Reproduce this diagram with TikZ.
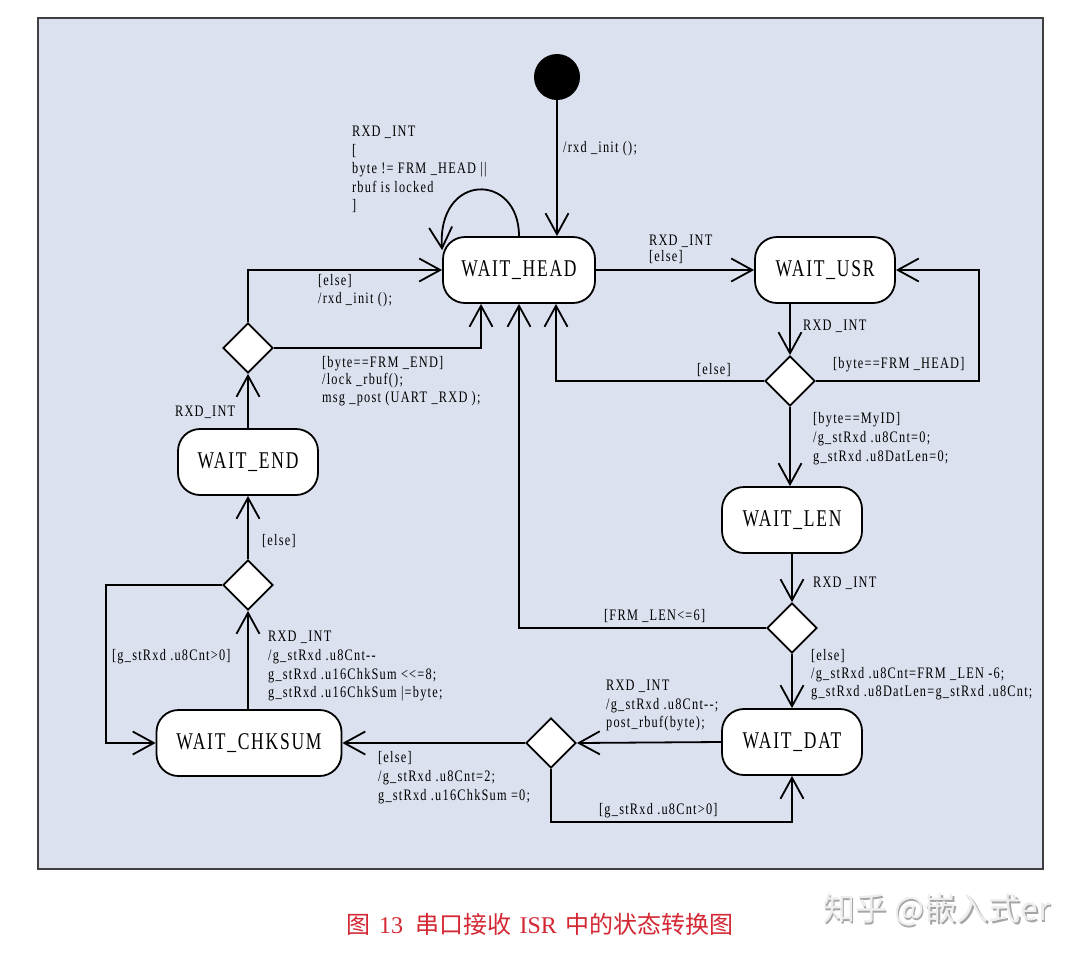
\documentclass[tikz,border=0pt]{standalone}
\usepackage{graphicx}
\usepackage{fontspec}
\setmainfont{Liberation Serif}
\newfontfamily\cjk{Noto Sans CJK SC}
\newfontfamily\lblfont[LetterSpace=10]{Liberation Serif}
\newfontfamily\statefont[LetterSpace=10]{Liberation Serif}
\newcommand{\stxt}[1]{\scalebox{0.73}[1]{#1}}
\usetikzlibrary{arrows.meta,shapes.geometric}
\definecolor{bgc}{RGB}{220,225,240}
\definecolor{capred}{RGB}{212,40,52}
\definecolor{wmshadow}{RGB}{165,165,165}
\definecolor{wmtop}{RGB}{238,238,238}
\tikzset{
  state/.style={draw, fill=white, line width=1.8pt, rounded corners=22pt,
    minimum height=66pt, inner sep=0pt, font=\statefont\fontsize{24}{28}\selectfont},
  dec/.style={diamond, draw, fill=white, line width=1.8pt, aspect=1,
    minimum width=50pt, minimum height=50pt, inner sep=0pt},
  arr/.style={line width=1.8pt, -{Straight Barb[length=21pt,width=23pt,line width=1.8pt]}},
  lbl/.style={anchor=north west, inner sep=0pt, align=left, xscale=0.77,
    font=\lblfont\fontsize{16}{18.5}\selectfont},
}
\begin{document}
\begin{tikzpicture}[x=1pt,y=-1pt]
\fill[white] (0,0) rectangle (1080,954);
\useasboundingbox (0,0) rectangle (1080,954);
\draw[line width=2pt, draw=black!75, fill=bgc] (38,18) rectangle (1043,869);

% states
\node[circle, fill=black, minimum size=46pt, inner sep=0pt] (init) at (557,77) {};
\node[state, minimum width=152pt] (head) at (519,270) {\stxt{WAIT\_HEAD}};
\node[state, minimum width=140pt] (usr) at (825,270) {\stxt{WAIT\_USR}};
\node[state, minimum width=140pt] (len) at (792,520) {\stxt{WAIT\_LEN}};
\node[state, minimum width=140pt] (dat) at (792,742) {\stxt{WAIT\_DAT}};
\node[state, minimum width=185pt] (chk) at (249,743) {\stxt{WAIT\_CHKSUM}};
\node[state, minimum width=140pt] (wend) at (248,462) {\stxt{WAIT\_END}};

% decisions
\node[dec] (d1) at (790,381) {};
\node[dec] (d2) at (792,628) {};
\node[dec] (d3) at (551,743) {};
\node[dec] (d4) at (248,585) {};
\node[dec] (d5) at (248,348) {};

% helper corners
\coordinate (rc) at (979,270);
\coordinate (bc) at (792,822);
\coordinate (lc) at (106,743);

% connectors
\draw[arr] (init) -- (head.north -| init);
\draw[arr] (head.north) .. controls (519,172) and (437,172) .. ([yshift=-14pt]head.north west);
\draw[arr] (head.east) -- (usr.west);
\draw[arr] (usr.south -| d1) -- (d1.north);
\draw[arr] (d1.east) -| (rc) -- (usr.east);
\draw[arr] (d1.west) -| ([xshift=37pt]head.south);
\draw[arr] (d1.south) -- (len.north -| d1);
\draw[arr] (len.south -| d2) -- (d2.north);
\draw[arr] (d2.west) -| (head.south);
\draw[arr] (d2.south) -- (dat.north -| d2);
\draw[arr] (dat.west) -- (d3.east);
\draw[arr] (d3.south) |- (bc) -- (dat.south);
\draw[arr] (d3.west) -- (chk.east);
\draw[arr] (chk.north -| d4) -- (d4.south);
\draw[arr] (d4.west) -| (lc) -- (chk.west);
\draw[arr] (d4.north) -- (wend.south);
\draw[arr] (wend.north) -- (d5.south);
\draw[arr] (d5.north) |- (head.west);
\draw[arr] (d5.east) -| ([xshift=-38pt]head.south);

% labels
\node[lbl] (lloop) at (352,126) {RXD \_INT\\{[}\\byte != FRM \_HEAD ||\\rbuf is locked\\]};
\node[lbl] (linit) at (563,141) {/rxd \_init ();};
\node[lbl, font=\lblfont\fontsize{16}{16}\selectfont] (lhu) at (649,235) {RXD \_INT\\{[}else]};
\node[lbl, font=\lblfont\fontsize{16}{18}\selectfont] (lelse5) at (318,274) {[else]\\/rxd \_init ();};
\node[lbl, font=\lblfont\fontsize{16}{17.5}\selectfont] (lend5) at (322,356) {[byte==FRM \_END]\\/lock \_rbuf();\\msg \_post (UART \_RXD );};
\node[lbl] (lud1) at (803,320) {RXD \_INT};
\node[lbl] (lfh) at (833,357) {[byte==FRM \_HEAD]};
\node[lbl] (lelse1) at (697,363) {[else]};
\node[lbl, font=\lblfont\fontsize{16}{19}\selectfont] (lmyid) at (813,412) {[byte==MyID]\\/g\_stRxd .u8Cnt=0;\\g\_stRxd .u8DatLen=0;};
\node[lbl] (lrxd2) at (813,577) {RXD \_INT};
\node[lbl] (llen6) at (604,609) {[FRM \_LEN<=6]};
\node[lbl, font=\lblfont\fontsize{16}{18}\selectfont] (lelse2) at (811,649) {[else]\\/g\_stRxd .u8Cnt=FRM \_LEN -6;\\g\_stRxd .u8DatLen=g\_stRxd .u8Cnt;};
\node[lbl] (ldat) at (606,680) {RXD \_INT\\/g\_stRxd .u8Cnt-{}-;\\post\_rbuf(byte);};
\node[lbl] (lcnt0) at (599,803) {[g\_stRxd .u8Cnt>0]};
\node[lbl, font=\lblfont\fontsize{16}{19}\selectfont] (lelse3) at (378,751) {[else]\\/g\_stRxd .u8Cnt=2;\\g\_stRxd .u16ChkSum =0;};
\node[lbl, font=\lblfont\fontsize{16}{18.7}\selectfont] (lchk) at (268,631) {RXD \_INT\\/g\_stRxd .u8Cnt-{}-\\g\_stRxd .u16ChkSum <{}<=8;\\g\_stRxd .u16ChkSum |=byte;};
\node[lbl] (lcnt0b) at (112,649) {[g\_stRxd .u8Cnt>0]};
\node[lbl] (lelse4) at (262,534) {[else]};
\node[lbl] (lrxd5) at (175,406) {RXD\_INT};

% caption
\node[text=capred, inner sep=0pt, font=\cjk\fontsize{24}{24}\selectfont] (cap) at (540,924)
  {图\hspace{0.35em}{\rmfamily 13}\hspace{0.5em}串口接收\hspace{0.35em}{\rmfamily ISR}\hspace{0.35em}中的状态转换图};
% watermark
\node[text=wmshadow, inner sep=0pt, font=\cjk\fontsize{32}{32}\selectfont] (wm1) at (938.5,911.5) {知乎 @嵌入式er};
\node[text=wmtop, inner sep=0pt, font=\cjk\fontsize{32}{32}\selectfont] (wm2) at (937,910) {知乎 @嵌入式er};
\end{tikzpicture}
\end{document}
